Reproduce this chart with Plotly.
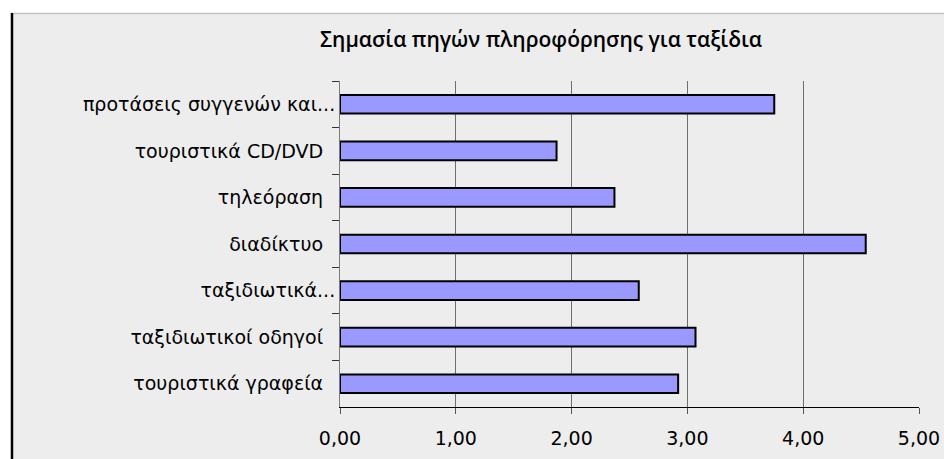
import plotly.graph_objects as go

categories = [
    "προτάσεις συγγενών και...",
    "τουριστικά CD/DVD\u00a0\u00a0",
    "τηλεόραση\u00a0\u00a0",
    "διαδίκτυο\u00a0\u00a0",
    "ταξιδιωτικά...",
    "ταξιδιωτικοί οδηγοί\u00a0\u00a0",
    "τουριστικά γραφεία\u00a0\u00a0",
]
values = [3.75, 1.87, 2.37, 4.54, 2.58, 3.07, 2.92]
x_ticks = [0, 1, 2, 3, 4, 5]
title_text = "Σημασία πηγών πληροφόρησης για ταξίδια"

W, H = 944, 459
L, R, T, B = 340, 25, 81, 52

fig = go.Figure(
    go.Bar(
        x=values,
        y=categories,
        orientation="h",
        width=0.4,
        marker=dict(color="#9999FF", line=dict(color="#000000", width=2)),
        hoverinfo="x+y",
    )
)

fig.update_layout(
    width=W,
    height=H,
    margin=dict(l=L, r=R, t=T, b=B, pad=0, autoexpand=False),
    paper_bgcolor="#FFFFFF",
    plot_bgcolor="rgba(0,0,0,0)",
    separators=",.",
    showlegend=False,
    font=dict(family="DejaVu Sans", size=19, color="#000000"),
    title=dict(
        text=title_text,
        x=(541) / W,
        xanchor="center",
        y=1 - 40 / H,
        yanchor="middle",
        font=dict(family="Open Sans", size=21, color="#000000", weight=600),
    ),
    shapes=[
        dict(type="rect", xref="paper", yref="paper", layer="below",
             x0=(11 - L) / (W - L - R), x1=(W - L + 5) / (W - L - R),
             y0=-(B + 5) / (H - T - B), y1=1 + (T - 13) / (H - T - B),
             fillcolor="#EDEDED", line=dict(width=0)),
        dict(type="line", xref="paper", yref="paper", layer="below",
             x0=(11 - L) / (W - L - R), x1=(W - L + 5) / (W - L - R),
             y0=1 + (T - 13.5) / (H - T - B), y1=1 + (T - 13.5) / (H - T - B),
             line=dict(color="#C4C4C4", width=1.5)),
        dict(type="line", xref="paper", yref="paper", layer="below",
             x0=(12 - L) / (W - L - R), x1=(12 - L) / (W - L - R),
             y0=-(B + 5) / (H - T - B), y1=1 + (T - 13) / (H - T - B),
             line=dict(color="#000000", width=2.5)),
    ],
)

fig.update_xaxes(
    range=[0, 5],
    tickvals=x_ticks,
    tickformat=".2f",
    showgrid=True,
    gridcolor="#6E6E6E",
    gridwidth=1,
    zeroline=False,
    showline=True,
    linecolor="#000000",
    linewidth=1,
    ticks="outside",
    ticklen=6,
    tickcolor="#555555",
    tickfont=dict(family="DejaVu Sans", size=19, color="#000000"),
    ticklabelstandoff=8,
    automargin=False,
    fixedrange=True,
)

fig.update_yaxes(
    type="category",
    autorange="reversed",
    showgrid=False,
    zeroline=False,
    showline=True,
    linecolor="#7A7A7A",
    linewidth=1,
    ticks="outside",
    tickson="boundaries",
    ticklen=7,
    tickcolor="#333333",
    tickfont=dict(family="DejaVu Sans", size=19, color="#000000"),
    automargin=False,
    fixedrange=True,
)

fig.write_html("out.html")
